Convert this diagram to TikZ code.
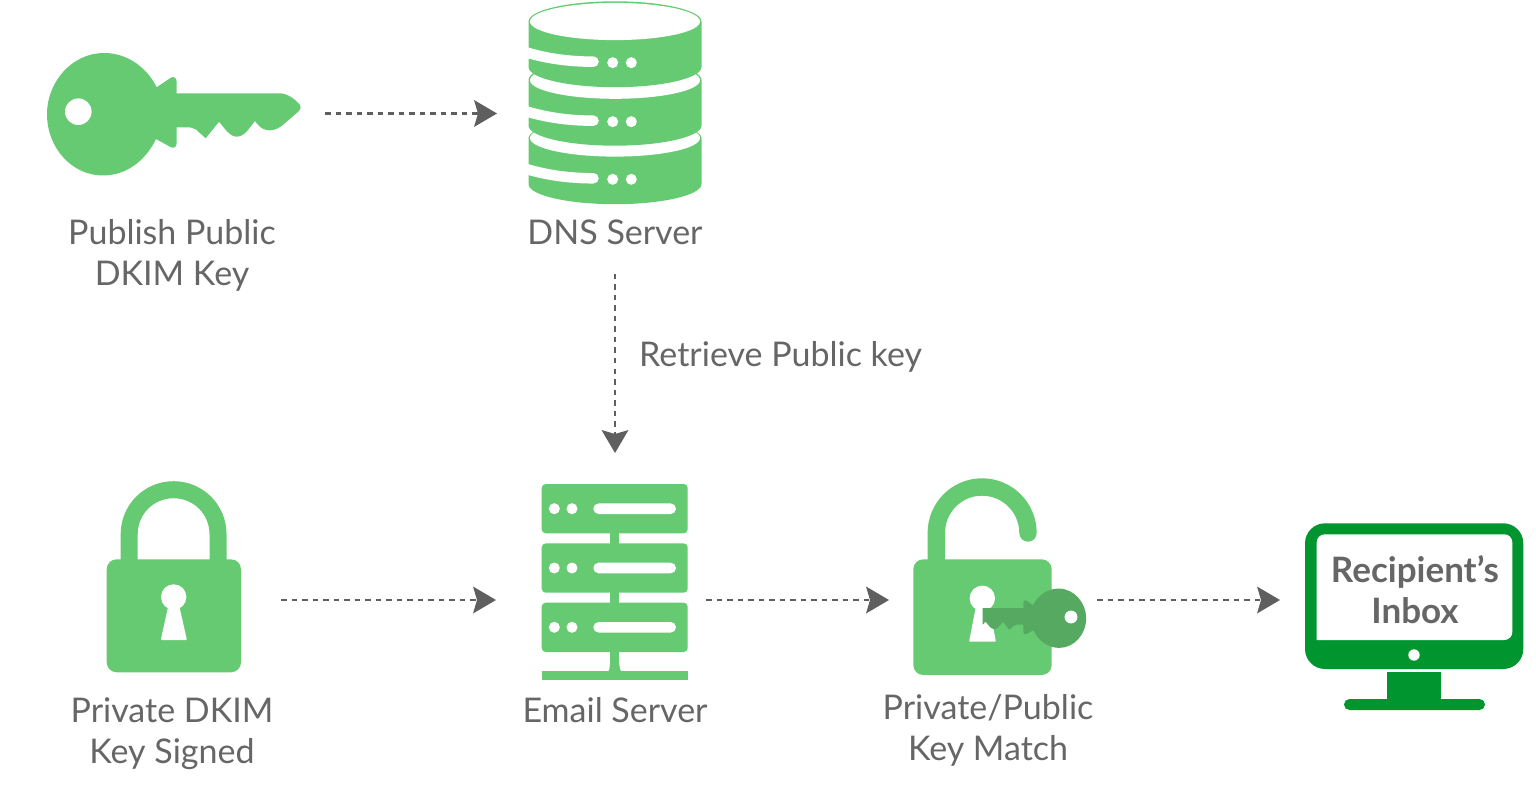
\documentclass[tikz,border=0pt]{standalone}
\usepackage{fontspec}
\setmainfont{Lato}[BoldFont=* Bold]
\usetikzlibrary{arrows.meta}
\definecolor{leaf}{HTML}{65CA71}
\definecolor{leafdark}{HTML}{56A961}
\definecolor{forest}{HTML}{00952F}
\definecolor{inkgrey}{HTML}{5F5F5F}
\definecolor{textgrey}{HTML}{666666}
\def\keyoutline{(156.7,87.3) -- (171,77.6) .. controls (174,76) and (176.5,78) .. (176.7,82) -- (176.7,93.3) -- (280,93.3) .. controls (288,93.5) and (296,100) .. (300,105) .. controls (301,107) and (301,109) .. (299,111) -- (281.7,126) .. controls (276,130) and (271,131) .. (266.7,130) .. controls (261,129) and (258,125) .. (255,121) .. controls (249,128) and (245,136.5) .. (236.7,136.7) .. controls (229,136.5) and (224,127) .. (219,121.7) -- (205.7,138.3) -- (196,129.5) .. controls (193,127.5) and (190,127.3) .. (186,127.3) -- (176.7,127.3) -- (176.7,143.3) .. controls (176.5,147) and (174,148.5) .. (171,147.3) -- (156,139) .. controls (145,162) and (125,175.5) .. (103,175.5) .. controls (72,175.5) and (47,148) .. (47,114) .. controls (47,82) and (72,53) .. (104,53) .. controls (126,53) and (146,66) .. (156.7,87.3) -- cycle}
\tikzset{
  icon/.style={fill=leaf,draw=none},
  hole/.style={fill=white,draw=none},
  flow/.style={draw=inkgrey,line width=2.8pt,dash pattern=on 5.5pt off 5pt,-{Stealth[length=23pt,width=27pt,inset=4pt,color=inkgrey,line width=0pt]}},
  label/.style={text=textgrey,align=center,font=\fontsize{34}{41.5}\selectfont,inner sep=0pt},
  inbox/.style={text=textgrey,align=center,font=\fontsize{35}{41}\selectfont\bfseries,inner sep=0pt},
}
\newcommand{\dbLayer}[3]{%
  \fill[icon] (528.5,#1) -- (528.5,#2) .. controls (528.5,#2+11) and (567,#2+20.2) .. (615,#2+20.2) .. controls (663,#2+20.2) and (701.5,#2+11) .. (701.5,#2) -- (701.5,#1) .. controls (701.5,#1-11) and (663,#1-20.2) .. (615,#1-20.2) .. controls (567,#1-20.2) and (528.5,#1-11) .. (528.5,#1) -- cycle;
  \draw[white,line width=10.5pt,line cap=round] (521,#3-12) .. controls (545,#3-4) and (570,#3-1) .. (593.5,#3-1);
  \fill[hole] (612.7,#3) circle[radius=5.5pt] (631.3,#3) circle[radius=5.5pt];
}
\newcommand{\dbRim}[1]{\fill[hole] (615,#1) ellipse[x radius=85pt,y radius=18.6pt];}
\newcommand{\rackUnit}[2]{%
  \fill[icon,rounded corners=4pt] (541.7,#1) rectangle (687.7,#1+49.3);
  \fill[hole] (554.3,#2) circle[radius=5.5pt] (572,#2) circle[radius=5.5pt];
  \fill[hole,rounded corners=5.3pt] (593.3,#2-5.3) rectangle (676,#2+5.3);
}
\begin{document}
\begin{tikzpicture}[x=1pt,y=-1pt]
\useasboundingbox (0,0) rectangle (1536,791);
\fill[white] (0,0) rectangle (1536,791);

% public key
\fill[icon] \keyoutline;
\fill[hole] (78.3,111.7) circle[radius=13.3pt];

% DNS server
\dbLayer{138.5}{184}{179.3}
\dbRim{138}
\dbLayer{80}{125.5}{121.7}
\dbRim{80.2}
\dbLayer{21.5}{67}{62.7}
\dbRim{21.5}

% email server
\fill[icon] (610,530) rectangle (619.3,672);
\fill[icon] (607.3,673) .. controls (609.5,670) and (610,667) .. (610,664) -- (619.3,664) .. controls (619.3,667) and (620,670) .. (621.7,673) -- cycle;
\fill[icon] (541.7,670.7) rectangle (687.7,680);
\rackUnit{484}{508.7}
\rackUnit{543.4}{568}
\rackUnit{602.7}{627.3}

% closed lock
\draw[leaf,line width=17pt] (129.2,565) -- (129.2,534) .. controls (129.2,509.5) and (149,489.7) .. (173.6,489.7) .. controls (198.2,489.7) and (218,509.5) .. (218,534) -- (218,565);
\fill[icon,rounded corners=10pt] (106.7,559.3) rectangle (241,672.3);
\fill[hole] (173.7,597) circle[radius=12.7pt];
\fill[hole,draw=white,line width=2pt,line join=round] (169.5,605) -- (178,605) -- (185.7,639) -- (162,639) -- cycle;

% open lock
\draw[leaf,line width=17.4pt,line cap=round] (1028,533) .. controls (1028,507.6) and (1007.4,487) .. (982,487) .. controls (956.7,487) and (936.3,507.6) .. (936.3,533) -- (936.3,566);
\fill[icon,rounded corners=10pt] (913.3,559.3) rectangle (1051.7,675);
\fill[hole] (982.3,598.3) circle[radius=12.7pt];
\fill[hole,draw=white,line width=2pt,line join=round] (977,606) -- (988,606) -- (994.7,640.7) -- (970.3,640.7) -- cycle;
\begin{scope}
  \clip (982.7,580) rectangle (1100,655);
  \begin{scope}[shift={(1071,617)},xscale=-0.484,yscale=0.484,shift={(-78.3,-111.7)}]
    \fill[leafdark] \keyoutline;
    \fill[hole] (78.3,111.7) circle[radius=13.3pt];
  \end{scope}
\end{scope}

% monitor
\fill[forest,rounded corners=20pt] (1305,523.3) rectangle (1523.3,669);
\fill[hole,rounded corners=8pt] (1316.7,534.3) -- (1512.3,534.3) -- (1512.3,640) [sharp corners] -- (1316.7,640) [rounded corners=8pt] -- cycle;
\fill[hole] (1414,655) circle[radius=5.7pt];
\fill[forest] (1387.3,671.7) rectangle (1441.3,700);
\fill[forest,rounded corners=5.5pt] (1344,699) rectangle (1485,710);

% text
\node[label] (lblpublish) at (172,255.5) {Publish Public\\DKIM Key};
\node[label] (lbldns) at (615,232) {DNS Server};
\node[label,anchor=west] (lblretrieve) at (639,357) {Retrieve Public key};
\node[label] (lblprivate) at (172,733.5) {Private DKIM\\Key Signed};
\node[label] (lblemail) at (615,710) {Email Server};
\node[label] (lblmatch) at (988,730.5) {Private/Public\\Key Match};
\node[inbox] (lblinbox) at (1415,590) {Recipient’s\\Inbox};

% connectors
\coordinate (keyout) at (325,113.5);
\coordinate (dnsin) at (497,113.5);
\coordinate (dnsout) at (615,274);
\coordinate (mailin) at (615,453);
\coordinate (lockout) at (281,600);
\coordinate (mailleft) at (496,600);
\coordinate (mailout) at (706,600);
\coordinate (matchin) at (889,600);
\coordinate (matchout) at (1097,600);
\coordinate (inboxin) at (1280,600);
\draw[flow] (keyout) -- (dnsin);
\draw[flow] (dnsout) -- (mailin);
\draw[flow] (lockout) -- (mailleft);
\draw[flow] (mailout) -- (matchin);
\draw[flow] (matchout) -- (inboxin);
\end{tikzpicture}
\end{document}
